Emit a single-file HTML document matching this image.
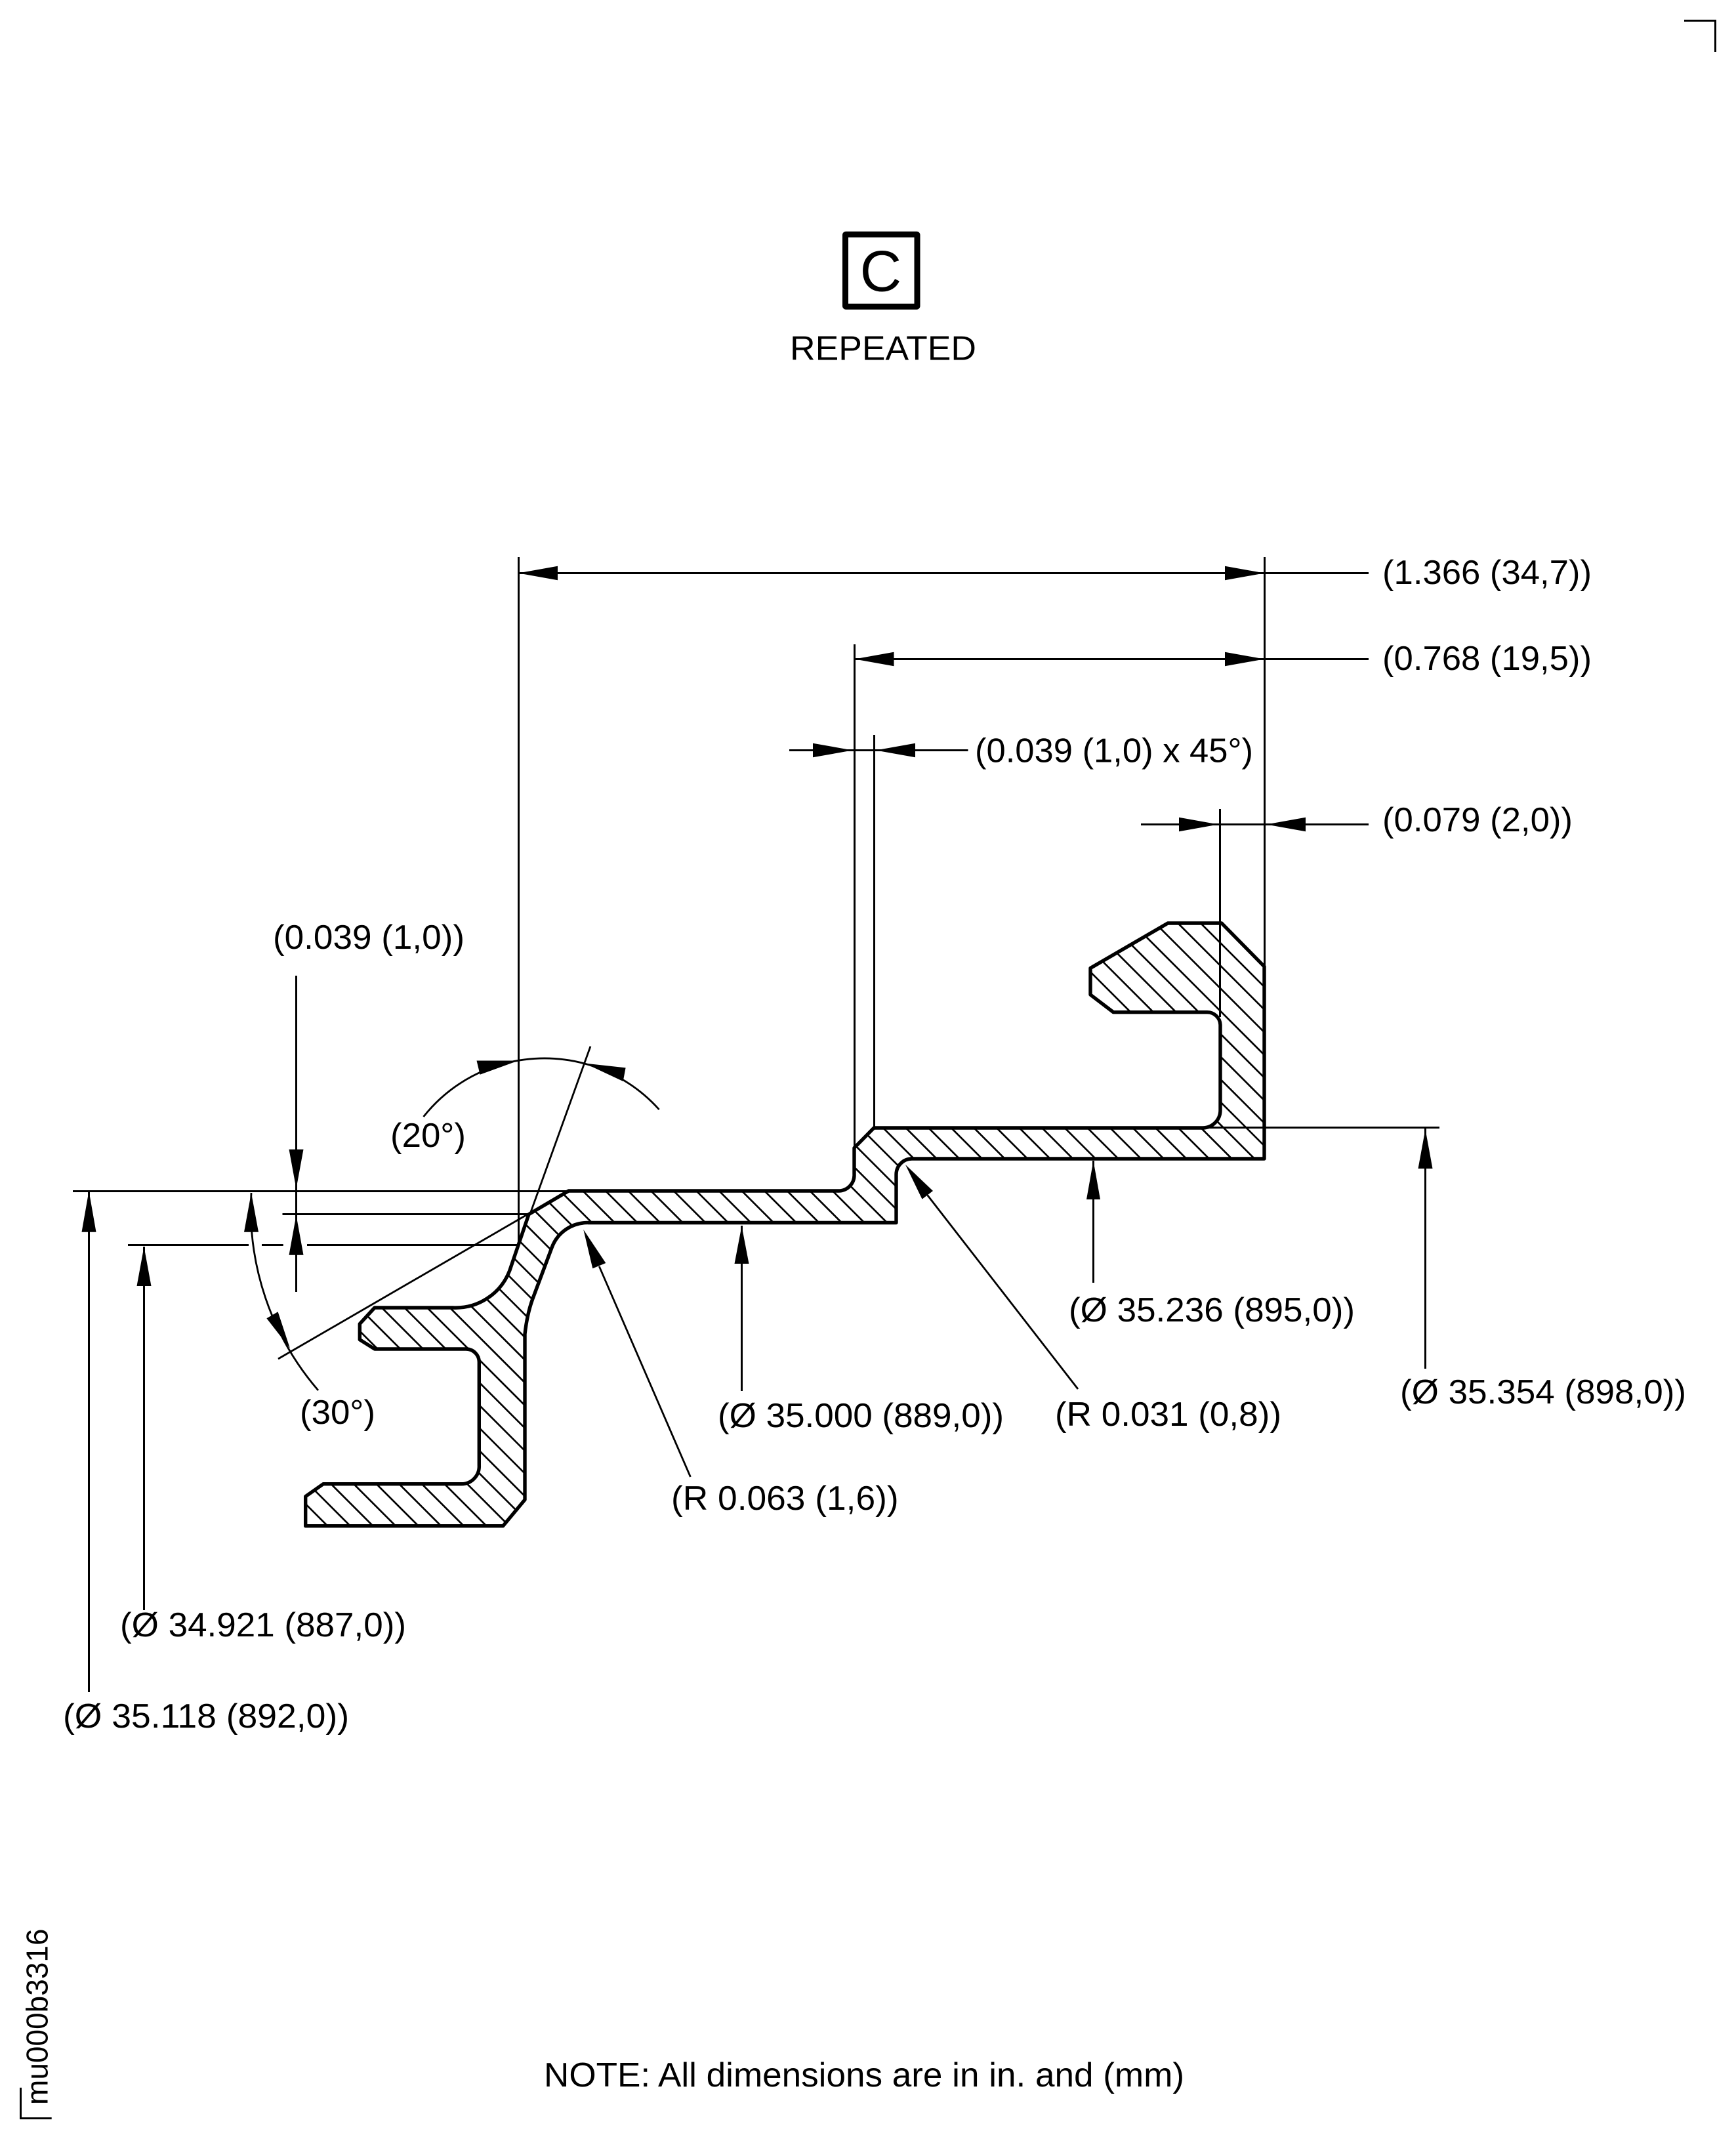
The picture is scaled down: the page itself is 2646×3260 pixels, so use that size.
<!DOCTYPE html>
<html>
<head>
<meta charset="utf-8">
<style>
html,body{margin:0;padding:0;background:#fff}
svg{display:block}
text{font-family:"Liberation Sans",Arial,sans-serif;font-size:52px;fill:#000}
</style>
</head>
<body>
<svg xmlns="http://www.w3.org/2000/svg" width="2646" height="3260" viewBox="0 0 2646 3260">
<rect width="2646" height="3260" fill="#fff"/>
<defs>
<clipPath id="prof"><path d="M1332,1719 L1833,1719 A27,27 0 0 0 1860,1692 L1860,1562 A20,20 0 0 0 1840,1542.7 L1697,1542.7 L1662,1516 L1662,1475.5 L1780,1407 L1862,1407 L1927,1473 L1927,1766 L1390,1766 A24,24 0 0 0 1366,1790 L1366,1863.5 L896.7,1863.5 A58,58 0 0 0 841,1901.7 L811.7,1980 Q803.3,2003.3 800,2033.3 L800,2285.7 L766.7,2325.7 L465.7,2325.7 L465.7,2280.7 L492.7,2261.7 L703.3,2261.7 A27,27 0 0 0 730.3,2233.3 L730.3,2076.7 A20,20 0 0 0 710,2056 L571,2056 L548.3,2041.7 L548.3,2017.7 L571,1993 L690,1993 A88,88 0 0 0 776.7,1936.7 L806,1850.7 L866.7,1815 L1278,1815 A24,24 0 0 0 1302,1790 L1302,1749.5 Z"/></clipPath>
</defs>

<!-- hatch -->
<g clip-path="url(#prof)">
<line x1="819.5" y1="2680.5" x2="2000" y2="1500" stroke="#000" stroke-width="3000" stroke-dasharray="2.7 21.77" stroke-dashoffset="1.35"/>
</g>

<!-- profile -->
<path d="M1332,1719 L1833,1719 A27,27 0 0 0 1860,1692 L1860,1562 A20,20 0 0 0 1840,1542.7 L1697,1542.7 L1662,1516 L1662,1475.5 L1780,1407 L1862,1407 L1927,1473 L1927,1766 L1390,1766 A24,24 0 0 0 1366,1790 L1366,1863.5 L896.7,1863.5 A58,58 0 0 0 841,1901.7 L811.7,1980 Q803.3,2003.3 800,2033.3 L800,2285.7 L766.7,2325.7 L465.7,2325.7 L465.7,2280.7 L492.7,2261.7 L703.3,2261.7 A27,27 0 0 0 730.3,2233.3 L730.3,2076.7 A20,20 0 0 0 710,2056 L571,2056 L548.3,2041.7 L548.3,2017.7 L571,1993 L690,1993 A88,88 0 0 0 776.7,1936.7 L806,1850.7 L866.7,1815 L1278,1815 A24,24 0 0 0 1302,1790 L1302,1749.5 Z" fill="none" stroke="#000" stroke-width="5.4" stroke-linejoin="round"/>

<!-- thin lines -->
<g fill="none" stroke="#000" stroke-width="3">
<path d="M790.5,849V1897"/>
<path d="M1927.5,849V1473"/>
<path d="M1302.5,982V1750"/>
<path d="M1332.5,1120V1719"/>
<path d="M1859.5,1233V1550"/>
<path d="M790,873.5H2086"/>
<path d="M1302.5,1004.5H2086"/>
<path d="M1203,1143.5H1475.5"/>
<path d="M1739,1256.5H2086"/>
<path d="M1835,1718.5H2194"/>
<path d="M111,1815.5H867"/>
<path d="M430.5,1850.5H806"/>
<path d="M195,1897.5H379M399,1897.5H431.7M468,1897.5H792"/>
<path d="M135.5,1815V2579"/>
<path d="M219.5,1900V2454"/>
<path d="M451.5,1487V1969"/>
<path d="M1130.5,1868V2120"/>
<path d="M1666.5,1769V1955"/>
<path d="M2172.5,1720V2086"/>
<path d="M2567,31.5H2614.5V79"/>
<path d="M31.5,3181.7V3228.5H78.7"/>
</g>
<g fill="none" stroke="#000" stroke-width="2.8">
<path d="M424,2071L808,1848.5"/>
<path d="M900,1594.7L808,1850"/>
<path d="M913.3,1930L1052.4,2250.9"/>
<path d="M1413.6,1821.5L1643,2117"/>
<path d="M645.5,1702A235,235 0 0 1 1004.6,1691"/>
<path d="M383,1818A424,424 0 0 0 485,2119"/>
</g>

<!-- arrowheads -->
<g fill="#000" stroke="none">
<polygon points="790,873.5 850,862.7 850,884.3"/>
<polygon points="1927,873.5 1867,862.7 1867,884.3"/>
<polygon points="1302.5,1004.5 1362.5,993.7 1362.5,1015.3"/>
<polygon points="1927,1004.5 1867,993.7 1867,1015.3"/>
<polygon points="1299.5,1143.5 1239,1132.7 1239,1154.3"/>
<polygon points="1334.7,1143.5 1395,1132.7 1395,1154.3"/>
<polygon points="1857,1256.5 1797,1245.7 1797,1267.3"/>
<polygon points="1930,1256.5 1990,1245.7 1990,1267.3"/>
<polygon points="135.5,1815 124.5,1877.7 146.5,1877.7"/>
<polygon points="219.5,1900 208.5,1960 230.5,1960"/>
<polygon points="383,1818 372,1877.7 394,1877.7"/>
<polygon points="451.5,1811.7 440.5,1751.7 462.5,1751.7"/>
<polygon points="451.5,1852 440.5,1912.7 462.5,1912.7"/>
<polygon points="442,2055 406.4,2009.3 423.6,1999.3"/>
<polygon points="790,1616.5 726.5,1616.5 731.6,1637.8"/>
<polygon points="891,1620.5 953.6,1627.4 949.7,1648"/>
<polygon points="889.3,1874 903.3,1933.3 923.3,1925"/>
<polygon points="1130.5,1868.5 1119.5,1926 1141.5,1926"/>
<polygon points="1380,1775 1405.5,1827.6 1422,1815"/>
<polygon points="1666.5,1769 1656,1828 1677,1828"/>
<polygon points="2172.5,1721 2161.5,1781 2183.5,1781"/>
</g>

<!-- C box -->
<rect x="1288.5" y="357.2" width="109.5" height="110" rx="1" fill="none" stroke="#000" stroke-width="9"/>
<text x="1310.6" y="443.5" style="font-size:88px">C</text>
<text x="1204" y="548.3" textLength="284" lengthAdjust="spacingAndGlyphs">REPEATED</text>

<!-- labels -->
<text x="2107" y="890" textLength="319" lengthAdjust="spacingAndGlyphs">(1.366 (34,7))</text>
<text x="2107" y="1021" textLength="319" lengthAdjust="spacingAndGlyphs">(0.768 (19,5))</text>
<text x="1486" y="1161.7" textLength="424" lengthAdjust="spacingAndGlyphs">(0.039 (1,0) x 45°)</text>
<text x="2107" y="1267" textLength="290" lengthAdjust="spacingAndGlyphs">(0.079 (2,0))</text>
<text x="416" y="1446" textLength="292" lengthAdjust="spacingAndGlyphs">(0.039 (1,0))</text>
<text x="595" y="1748" textLength="115" lengthAdjust="spacingAndGlyphs">(20°)</text>
<text x="457" y="2170" textLength="115" lengthAdjust="spacingAndGlyphs">(30°)</text>
<text x="1094" y="2175" textLength="436" lengthAdjust="spacingAndGlyphs">(Ø 35.000 (889,0))</text>
<text x="1023" y="2301" textLength="346.6" lengthAdjust="spacingAndGlyphs">(R 0.063 (1,6))</text>
<text x="1608" y="2173" textLength="345" lengthAdjust="spacingAndGlyphs">(R 0.031 (0,8))</text>
<text x="1629" y="2014" textLength="436" lengthAdjust="spacingAndGlyphs">(Ø 35.236 (895,0))</text>
<text x="2134" y="2139" textLength="436" lengthAdjust="spacingAndGlyphs">(Ø 35.354 (898,0))</text>
<text x="183" y="2494" textLength="436" lengthAdjust="spacingAndGlyphs">(Ø 34.921 (887,0))</text>
<text x="96" y="2633" textLength="436" lengthAdjust="spacingAndGlyphs">(Ø 35.118 (892,0))</text>
<text x="829" y="3180" textLength="976" lengthAdjust="spacingAndGlyphs">NOTE: All dimensions are in in. and (mm)</text>
<text transform="translate(72.7 3208) rotate(-90)" style="font-size:46px">mu000b3316</text>
</svg>
</body>
</html>
